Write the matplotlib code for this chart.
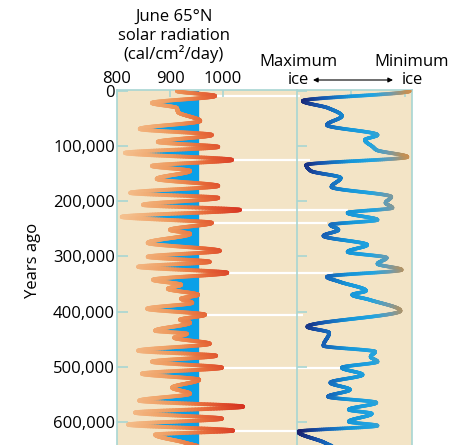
import numpy as np
import matplotlib
matplotlib.use("Agg")
from matplotlib import pyplot as plt
from matplotlib.collections import LineCollection
from matplotlib.colors import LinearSegmentedColormap, Normalize

plt.rcParams['font.family'] = ['Open Sans', 'DejaVu Sans']

# June 65N insolation (cal/cm2/day), turning points of the curve
rad_years = [0, 9000, 21700, 30800, 38000, 54300, 68800, 79700, 92400, 101400,
             112300, 125000, 135900, 144900, 159400, 172100, 184800, 193800, 206500, 215600,
             228300, 239100, 251800, 259100, 275400, 289900, 300700, 309800, 318800, 329700,
             342400, 351400, 358700, 369600, 376800, 384100, 394900, 405800, 414900, 420300,
             434800, 440200, 447500, 458300, 471000, 480100, 491000, 501800, 512700, 523600,
             538000, 548900, 561600, 572500, 583300, 594200, 605100, 615900, 623200, 637700,
             646700]
rad_values = [913, 985, 866, 913, 915, 957, 843, 979, 877, 991,
              815, 1017, 866, 938, 875, 991, 825, 991, 849, 1032,
              809, 979, 900, 938, 858, 994, 858, 975, 840, 1008,
              868, 921, 896, 953, 921, 942, 857, 966, 919, 938,
              872, 932, 908, 975, 840, 987, 866, 998, 847, 955,
              904, 938, 842, 1038, 834, 998, 821, 1019, 872, 928,
              957]

# ice volume: 0 = maximum ice, 100 = minimum ice
ice_years = [0, 18100, 30800, 45300, 61600, 79700, 88800, 101400, 106900, 119600,
             134100, 144900, 157600, 173900, 192000, 202900, 211900, 221000, 233700, 242700,
             251800, 262700, 279000, 291700, 302500, 313400, 324300, 337000, 346000, 362300,
             369600, 378600, 398600, 427500, 438400, 462000, 472800, 481900, 490900, 501800,
             514500, 529000, 541700, 554300, 565200, 577900, 585100, 599600, 606900, 617800,
             637700, 654000]
ice_values = [98, 5, 27, 39, 26, 70, 59, 66, 69, 96,
              8, 12, 38, 30, 82, 77, 83, 44, 70, 29,
              36, 23, 61, 44, 78, 70, 91, 26, 37, 60,
              48, 63, 90, 9, 28, 23, 68, 64, 70, 39,
              57, 29, 46, 27, 69, 45, 65, 45, 70, 1,
              24, 37]

# insolation peaks carried across to the ice record
link_years = [9000, 125000, 215600, 239100, 329700, 405800, 501800, 615900]
link_ice = [3, 11, 44, 26, 31, 5, 40, 1]

rad_ticks = [800, 900, 1000]
ice_ticks = [47, 94]
year_ticks = [0, 100000, 200000, 300000, 400000, 500000, 600000]
year_labels = ["0", "100,000", "200,000", "300,000", "400,000", "500,000", "600,000"]
blue_level = 955

W, H = 450, 445
BEIGE = "#f3e4c6"
TEAL = "#a8d6d3"


def pchip(x, y, xs):
    x = np.asarray(x, float)
    y = np.asarray(y, float)
    h = np.diff(x)
    d = np.diff(y) / h
    m = np.zeros_like(y)
    for k in range(1, len(x) - 1):
        if d[k - 1] * d[k] > 0:
            w1 = 2 * h[k] + h[k - 1]
            w2 = h[k] + 2 * h[k - 1]
            m[k] = (w1 + w2) / (w1 / d[k - 1] + w2 / d[k])
    i = np.clip(np.searchsorted(x, xs) - 1, 0, len(h) - 1)
    t = (xs - x[i]) / h[i]
    return ((2 * t**3 - 3 * t**2 + 1) * y[i] + (t**3 - 2 * t**2 + t) * h[i] * m[i]
            + (-2 * t**3 + 3 * t**2) * y[i + 1] + (t**3 - t**2) * h[i] * m[i + 1])


def gradient_line(ax, xs, ys, cmap, norm, lw):
    pts = np.column_stack([xs, ys]).reshape(-1, 1, 2)
    segs = np.concatenate([pts[:-1], pts[1:]], axis=1)
    colors = cmap(norm((xs[:-1] + xs[1:]) / 2))
    lc = LineCollection(segs, colors=colors, linewidths=lw,
                        capstyle="round", joinstyle="round", zorder=3)
    ax.add_collection(lc)


rad_cmap = LinearSegmentedColormap.from_list(
    "rad", [(0, "#f4c08e"), (0.4, "#ee9a5e"), (0.65, "#e76d3b"), (1, "#d62f1f")])
ice_cmap = LinearSegmentedColormap.from_list(
    "ice", [(0, "#1a1d6a"), (0.2, "#1756ad"), (0.45, "#1696d8"), (0.65, "#22a4e0"),
            (0.8, "#6e9bad"), (0.92, "#b8925f"), (1, "#dc8d45")])

fig = plt.figure(figsize=(W / 100, H / 100), dpi=100)
top = 1 - 90 / H
ax_rad = fig.add_axes([117 / W, 0, 180 / W, top])
ax_ice = fig.add_axes([297 / W, 0, 115 / W, top], sharey=ax_rad)

y_min, y_max = -1800, 642000
ax_rad.set_xlim(800, 800 + 180 * 100 / 53)
ax_ice.set_xlim(0, 100)
ax_rad.set_ylim(y_max, y_min)

for ax in (ax_rad, ax_ice):
    ax.set_facecolor(BEIGE)
    for s in ax.spines.values():
        s.set_color(TEAL)
        s.set_linewidth(1.2)
    ax.spines["bottom"].set_visible(False)
ax_rad.spines["right"].set_visible(False)

# insolation curve with the blue band below the reference level
yy = np.linspace(0, rad_years[-1], 3000)
rr = pchip(rad_years, rad_values, yy)
ax_rad.fill_betweenx(yy, rr, blue_level, where=rr < blue_level, interpolate=True,
                     color="#0aa0e8", lw=0, zorder=2)
gradient_line(ax_rad, rr, yy, rad_cmap, Normalize(815, 1040), 2.8)

# ice volume curve
yi = np.linspace(0, ice_years[-1], 3000)
vi = pchip(ice_years, ice_values, yi)
gradient_line(ax_ice, vi, yi, ice_cmap, Normalize(0, 100), 2.6)

# white connectors from insolation peaks to the ice record
link_start = np.interp(link_years, yy, rr)
ax_rad.hlines(link_years, link_start, ax_rad.get_xlim()[1], color="white", lw=1.6, zorder=1.5)
ax_ice.hlines(link_years, 0, link_ice, color="white", lw=1.6, zorder=1.5)

ax_rad.xaxis.tick_top()
ax_rad.set_xticks(rad_ticks)
ax_rad.set_xticklabels([str(t) for t in rad_ticks])
ax_rad.tick_params(axis="x", direction="in", length=5, width=1.2, color=TEAL,
                   labelsize=12, pad=2.5, top=True, bottom=False)
ax_rad.set_yticks(year_ticks)
ax_rad.set_yticklabels(year_labels)
ax_rad.tick_params(axis="y", direction="in", length=8, width=1.2, color=TEAL,
                   labelsize=12, pad=1.5)

ax_ice.xaxis.tick_top()
ax_ice.set_xticks(ice_ticks)
ax_ice.tick_params(axis="x", direction="in", length=5, width=1.2, color=TEAL,
                   labeltop=False, labelbottom=False, top=True, bottom=False)
ax_ice.tick_params(axis="y", direction="in", length=7, width=1.2, color=TEAL,
                   labelleft=False)


def px_text(x, y, s, **kw):
    fig.text(x / W, 1 - y / H, s, ha="center", va="baseline", fontsize=12, **kw)


px_text(174, 21, "June 65°N")
px_text(174, 40, "solar radiation")
px_text(174, 59, "(cal/cm²/day)")
px_text(298, 66, "Maximum")
px_text(298, 84, "ice")
px_text(412, 66, "Minimum")
px_text(412, 84, "ice")
fig.text(33 / W, 1 - 260 / H, "Years ago", rotation=90, ha="center", va="center", fontsize=12)

ax_ice.annotate("", xy=(393 / W, 1 - 80 / H), xytext=(313 / W, 1 - 80 / H),
                xycoords="figure fraction", textcoords="figure fraction",
                arrowprops=dict(arrowstyle="<|-|>", lw=0.8, color="black",
                                mutation_scale=7, shrinkA=0, shrinkB=0))

fig.savefig("out.png", dpi=100)
